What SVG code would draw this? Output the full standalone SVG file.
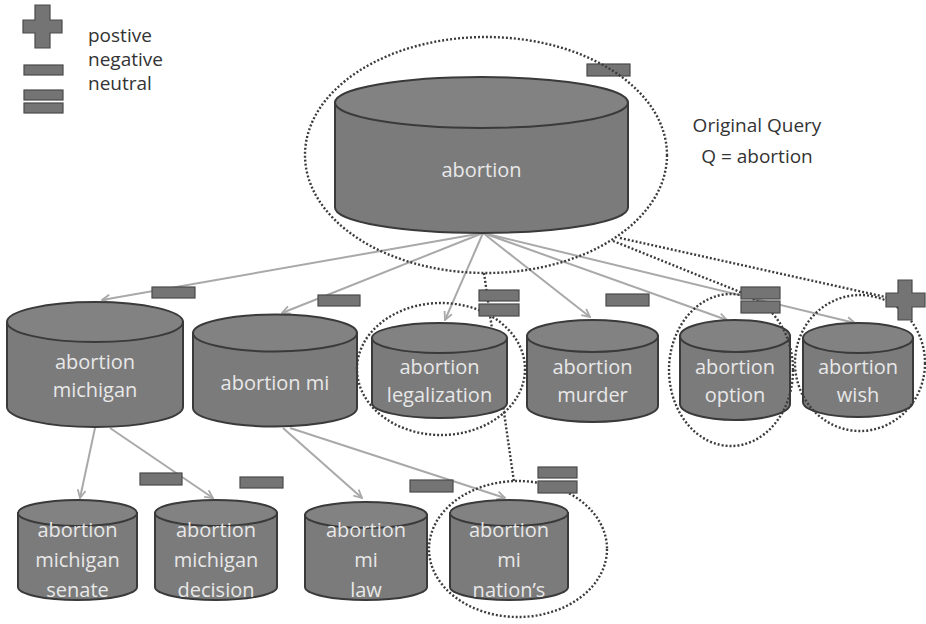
<svg xmlns="http://www.w3.org/2000/svg" width="926" height="624" viewBox="0 0 926 624">
<defs>
<style>
.cyl{fill:#7b7b7b;stroke:#3a3a3a;stroke-width:2}
.cap{fill:#828282;stroke:#3a3a3a;stroke-width:2}
.lbl{font-family:"Open Sans","DejaVu Sans",sans-serif;font-size:20px;fill:#e8e8e8;text-anchor:middle}
.leg{font-family:"Open Sans","DejaVu Sans",sans-serif;font-size:19px;fill:#333}
.dot{fill:none;stroke:#3c3c3c;stroke-width:2.4;stroke-dasharray:2 2}
.conn{stroke:#a9a9a9;stroke-width:2;fill:none;marker-end:url(#arr)}
.sign{fill:#747474;stroke:#4a4a4a;stroke-width:1.2}
</style>
<marker id="arr" viewBox="0 0 10 10" refX="9" refY="5" markerWidth="10" markerHeight="10" markerUnits="userSpaceOnUse" orient="auto">
<path d="M1,1 L9,5 L1,9" fill="none" stroke="#a9a9a9" stroke-width="1.8"/>
</marker>
</defs>
<rect width="926" height="624" fill="#ffffff"/>

<g id="legend">
<path class="sign" d="M35,5 H50 V20 H62 V33 H50 V48 H35 V33 H23 V20 H35 Z"/>
<rect class="sign" x="24" y="65" width="39" height="10"/>
<rect class="sign" x="24" y="90" width="39" height="10"/>
<rect class="sign" x="24" y="103" width="39" height="10"/>
<text class="leg" x="88" y="42">postive</text>
<text class="leg" x="88" y="66">negative</text>
<text class="leg" x="88" y="90">neutral</text>
</g>

<g id="query-label">
<text class="leg" x="757" y="132" text-anchor="middle">Original Query</text>
<text class="leg" x="757" y="163" text-anchor="middle">Q = abortion</text>
</g>

<g id="connectors">
<line class="conn" x1="483" y1="233" x2="102" y2="300"/>
<line class="conn" x1="483" y1="233" x2="282" y2="313"/>
<line class="conn" x1="483" y1="233" x2="445" y2="320"/>
<line class="conn" x1="483" y1="233" x2="590" y2="317"/>
<line class="conn" x1="483" y1="233" x2="727" y2="320"/>
<line class="conn" x1="483" y1="233" x2="855" y2="323"/>
<line class="conn" x1="95" y1="428" x2="80" y2="498"/>
<line class="conn" x1="110" y1="428" x2="213" y2="498"/>
<line class="conn" x1="283" y1="428" x2="362" y2="498"/>
<line class="conn" x1="290" y1="428" x2="505" y2="498"/>
<line class="dot" x1="613" y1="241" x2="745" y2="294"/>
<line class="dot" x1="620" y1="238" x2="890" y2="298"/>
<line class="dot" x1="484" y1="273" x2="514" y2="482"/>
</g>

<g id="n-abortion">
<path class="cyl" d="M335,102.5 V207.5 A146.5,25.5 0 0 0 628,207.5 V102.5 Z"/>
<ellipse class="cap" cx="481.5" cy="102.5" rx="146.5" ry="25.5"/>
<text class="lbl" x="481.5" y="177">abortion</text>
<rect class="sign" x="587" y="64" width="43" height="12"/>
<ellipse class="dot" cx="486" cy="155" rx="181" ry="118"/>
</g>

<g id="n-michigan">
<path class="cyl" d="M7,322 V407 A88,20 0 0 0 183,407 V322 Z"/>
<ellipse class="cap" cx="95" cy="322" rx="88" ry="20"/>
<text class="lbl" x="95" y="369">abortion</text>
<text class="lbl" x="95" y="397">michigan</text>
<rect class="sign" x="152" y="287" width="43" height="11"/>
</g>

<g id="n-mi">
<path class="cyl" d="M193,333 V408 A82,18.5 0 0 0 357,408 V333 Z"/>
<ellipse class="cap" cx="275" cy="333" rx="82" ry="18.5"/>
<text class="lbl" x="275" y="390">abortion mi</text>
<rect class="sign" x="318" y="295" width="42" height="11"/>
</g>

<g id="n-legalization">
<path class="cyl" d="M372,338 V403 A67.5,15 0 0 0 507,403 V338 Z"/>
<ellipse class="cap" cx="439.5" cy="338" rx="67.5" ry="15"/>
<text class="lbl" x="439.5" y="374">abortion</text>
<text class="lbl" x="439.5" y="402">legalization</text>
<ellipse class="dot" cx="441" cy="369" rx="84" ry="66"/>
<rect class="sign" x="479" y="290" width="40" height="11"/>
<rect class="sign" x="479" y="304" width="40" height="12"/>
</g>

<g id="n-murder">
<path class="cyl" d="M527,336 V406 A65.5,16 0 0 0 658,406 V336 Z"/>
<ellipse class="cap" cx="592.5" cy="336" rx="65.5" ry="16"/>
<text class="lbl" x="592.5" y="374">abortion</text>
<text class="lbl" x="592.5" y="402">murder</text>
<rect class="sign" x="606" y="294" width="43" height="12"/>
</g>

<g id="n-option">
<path class="cyl" d="M680,336 V404 A55,16 0 0 0 790,404 V336 Z"/>
<ellipse class="cap" cx="735" cy="336" rx="55" ry="16"/>
<text class="lbl" x="735" y="374">abortion</text>
<text class="lbl" x="735" y="402">option</text>
<ellipse class="dot" cx="731" cy="370" rx="62" ry="76"/>
<rect class="sign" x="741" y="287" width="39" height="12"/>
<rect class="sign" x="741" y="301" width="39" height="12"/>
</g>

<g id="n-wish">
<path class="cyl" d="M803,338 V402 A55,15 0 0 0 913,402 V338 Z"/>
<ellipse class="cap" cx="858" cy="338" rx="55" ry="15"/>
<text class="lbl" x="858" y="374">abortion</text>
<text class="lbl" x="858" y="402">wish</text>
<ellipse class="dot" cx="860" cy="363" rx="65" ry="68"/>
<path class="sign" d="M898,280 H912 V293 H925 V307 H912 V320 H898 V307 H886 V293 H898 Z"/>
</g>

<g id="n-senate">
<path class="cyl" d="M18,513 V587 A59.5,13 0 0 0 137,587 V513 Z"/>
<ellipse class="cap" cx="77.5" cy="513" rx="59.5" ry="13"/>
<text class="lbl" x="77.5" y="537">abortion</text>
<text class="lbl" x="77.5" y="567">michigan</text>
<text class="lbl" x="77.5" y="597">senate</text>
<rect class="sign" x="140" y="473" width="42" height="12"/>
</g>

<g id="n-decision">
<path class="cyl" d="M155,513 V587 A61,13 0 0 0 277,587 V513 Z"/>
<ellipse class="cap" cx="216" cy="513" rx="61" ry="13"/>
<text class="lbl" x="216" y="537">abortion</text>
<text class="lbl" x="216" y="567">michigan</text>
<text class="lbl" x="216" y="597">decision</text>
<rect class="sign" x="240" y="477" width="43" height="11"/>
</g>

<g id="n-law">
<path class="cyl" d="M305,515 V587 A61,13 0 0 0 427,587 V515 Z"/>
<ellipse class="cap" cx="366" cy="515" rx="61" ry="13"/>
<text class="lbl" x="366" y="537">abortion</text>
<text class="lbl" x="366" y="567">mi</text>
<text class="lbl" x="366" y="597">law</text>
<rect class="sign" x="410" y="480" width="43" height="12"/>
</g>

<g id="n-nations">
<path class="cyl" d="M450,513 V587 A59,13 0 0 0 568,587 V513 Z"/>
<ellipse class="cap" cx="509" cy="513" rx="59" ry="13"/>
<text class="lbl" x="509" y="537">abortion</text>
<text class="lbl" x="509" y="567">mi</text>
<text class="lbl" x="509" y="597">nation’s</text>
<ellipse class="dot" cx="518" cy="549" rx="89" ry="68"/>
<rect class="sign" x="538" y="467" width="39" height="11"/>
<rect class="sign" x="538" y="481" width="39" height="12"/>
</g>
</svg>
